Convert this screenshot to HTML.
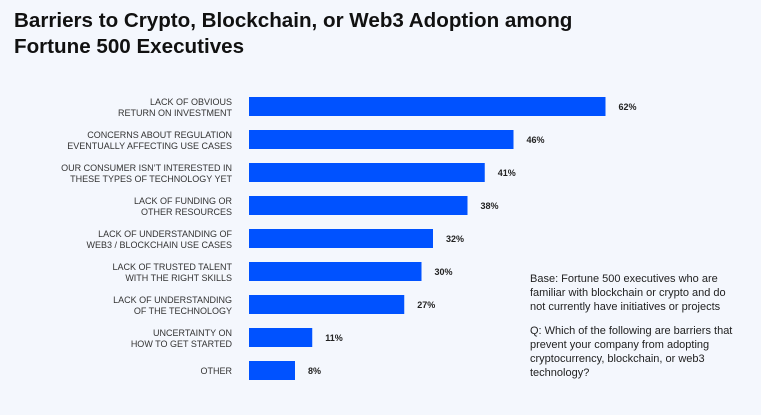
<!DOCTYPE html>
<html><head><meta charset="utf-8"><style>
body{margin:0;width:761px;height:415px;background:#f4f7fd;font-family:"Liberation Sans",sans-serif;overflow:hidden;position:relative}
h1{position:absolute;left:14px;top:8px;margin:0;font-size:20.6px;line-height:26px;font-weight:bold;color:#111}
.note{position:absolute;left:530px;font-size:11px;line-height:14px;color:#222;width:212px}
</style></head><body>
<h1>Barriers to Crypto, Blockchain, or Web3 Adoption among<br>Fortune 500 Executives</h1>
<svg id="chart" width="761" height="415" style="position:absolute;left:0;top:0"></svg>
<div class="note" style="top:272px">Base: Fortune 500 executives who are familiar with blockchain or crypto and do not currently have initiatives or projects</div>
<div class="note" style="top:324px">Q: Which of the following are barriers that prevent your company from adopting cryptocurrency, blockchain, or web3 technology?</div>
<script>
const categories=[["LACK OF OBVIOUS","RETURN ON INVESTMENT"],["CONCERNS ABOUT REGULATION","EVENTUALLY AFFECTING USE CASES"],["OUR CONSUMER ISN’T INTERESTED IN","THESE TYPES OF TECHNOLOGY YET"],["LACK OF FUNDING OR","OTHER RESOURCES"],["LACK OF UNDERSTANDING OF","WEB3 / BLOCKCHAIN USE CASES"],["LACK OF TRUSTED TALENT","WITH THE RIGHT SKILLS"],["LACK OF UNDERSTANDING","OF THE TECHNOLOGY"],["UNCERTAINTY ON","HOW TO GET STARTED"],["OTHER"]];
const values=[62,46,41,38,32,30,27,11,8];
const NS="http://www.w3.org/2000/svg";
const svg=document.getElementById('chart');
const x0=249,scale=5.75;
const xPos=v=>x0+v*scale;
const yPos=i=>97+i*33;
function mk(t,a){const e=document.createElementNS(NS,t);for(const k in a)e.setAttribute(k,a[k]);svg.appendChild(e);return e;}
values.forEach((v,i)=>{
  const y=yPos(i);
  const r=mk('rect',{x:x0,y:y,width:xPos(v)-x0,height:19,fill:'#0052ff'});
  
  
  const t=mk('text',{x:xPos(v)+13,y:y+13,'font-size':9,'font-weight':'bold',fill:'#222','font-family':'Liberation Sans'});
  t.textContent=v+'%';
  
  
  const lines=categories[i];
  lines.forEach((l,j)=>{
    const yy=lines.length===1?y+13:y+8+j*11;
    const c=mk('text',{x:232,y:yy,'font-size':9,'text-anchor':'end',fill:'#333','font-family':'Liberation Sans'});
    c.textContent=l;
    
    
  });
});
</script>
</body></html>
